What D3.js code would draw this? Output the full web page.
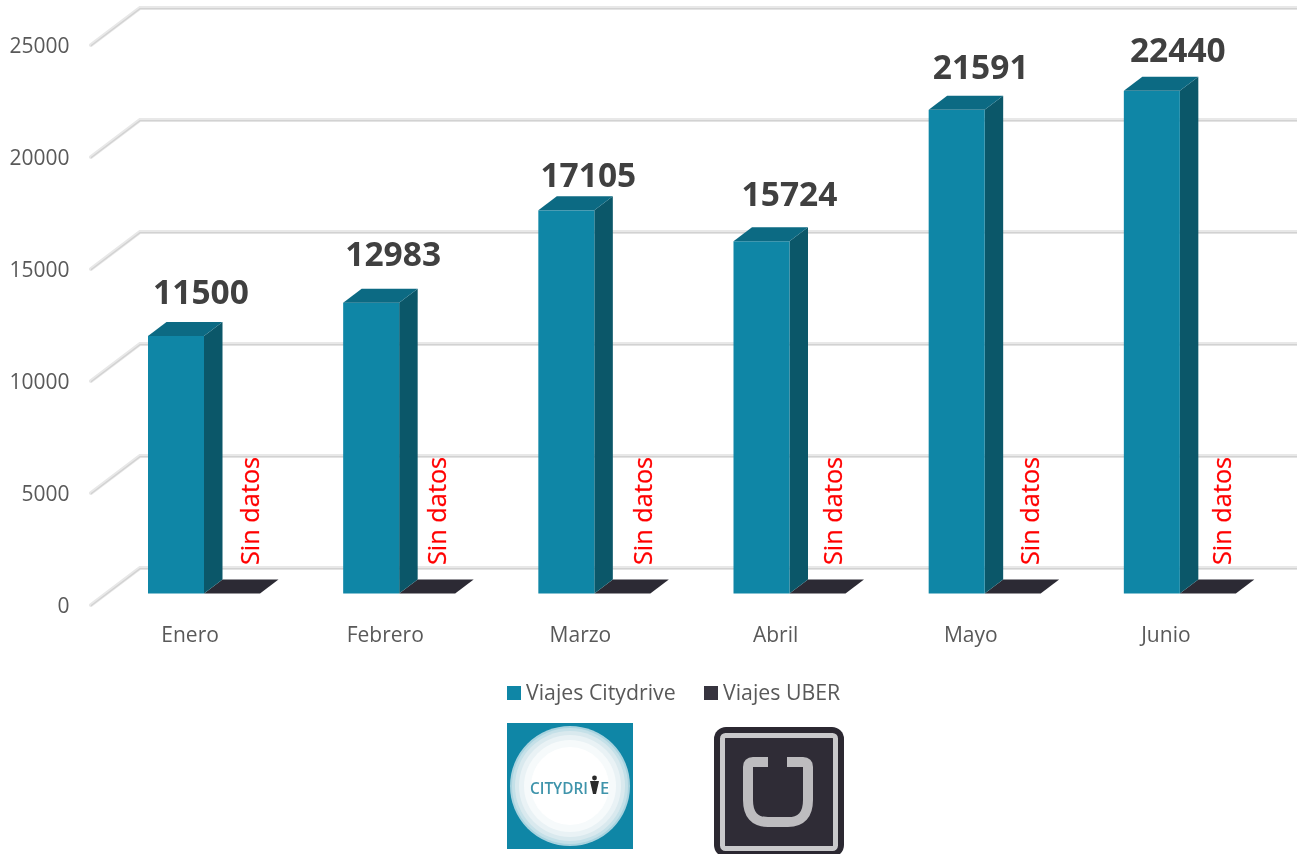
<!DOCTYPE html>
<html>
<head>
<meta charset="utf-8">
<script src="https://cdn.jsdelivr.net/npm/d3@7"></script>
<style>
  html, body { margin: 0; padding: 0; background: #fff; }
  svg { display: block; filter: blur(0.4px); }
  text { font-family: "Open Sans", sans-serif; }
</style>
</head>
<body>
<svg id="chart" width="1297" height="854"></svg>
<script>
const months = ["Enero", "Febrero", "Marzo", "Abril", "Mayo", "Junio"];
const citydrive = [11500, 12983, 17105, 15724, 21591, 22440];
const uber = [0, 0, 0, 0, 0, 0];
const yTicks = [0, 5000, 10000, 15000, 20000, 25000];
const legendNames = ["Viajes Citydrive", "Viajes UBER"];
const noDataLabel = "Sin datos";

// aes
const cityFront = "#0f86a6", cityTop = "#0c6a83", citySide = "#0b5769";
const uberFront = "#37343f", uberTop = "#2c2a34";
const depthX = 18.5, depthY = 14;
const gridFrontX = 91, gridBackX = 140;
const barWidth = 56;

const svg = d3.select("#chart");

let x = d3.scaleBand().domain(months).range([100, 1271]).paddingInner(0).paddingOuter(0);
let y = d3.scaleLinear().domain([0, 25000]).range([593.5, 33.5]);

// the labels were placed by hand in the original, so they are not evenly spaced
const noDataNudge = [0, -8, 3, -3, -1, -4];
const valueNudgeX = [0, -3, -3, 3, -1, 1];
const valueNudgeY = [0, -5, 9, -3, 1, 3];

// grid, drawn as a thick light line with a thin darker core
let grid = svg.append("g");
yTicks.forEach(t => {
  let pts = [[gridFrontX, y(t) + 11.5], [gridBackX, y(t) - 25.5], [1297, y(t) - 25.5]];
  grid.append("path").attr("d", d3.line()(pts))
    .attr("fill", "none").attr("stroke", "#e8e8e8").attr("stroke-width", 4)
    .attr("stroke-linecap", "round");
  grid.append("path").attr("d", d3.line()(pts.map(p => [p[0], p[1] + 0.7])))
    .attr("fill", "none").attr("stroke", "#d2d2d2").attr("stroke-width", 1.3);
});

// y labels
svg.append("g").selectAll("text").data(yTicks).enter().append("text")
  .attr("x", 69.5)
  .attr("y", d => y(d) + 19)
  .attr("text-anchor", "end")
  .attr("font-size", 21)
  .attr("fill", "#595959")
  .text(d => d);

// Add a box in fake 3d
function box(g, x0, w, top, base, front, topCol, side) {
  let poly = pts => g.append("polygon").attr("points", pts.map(p => p.join(",")).join(" "));
  if (top < base) {
    poly([[x0 + w, top], [x0 + w + depthX, top - depthY], [x0 + w + depthX, base - depthY], [x0 + w, base]]).attr("fill", side);
    g.append("rect").attr("x", x0).attr("y", top).attr("width", w).attr("height", base - top).attr("fill", front);
  }
  poly([[x0, top], [x0 + depthX, top - depthY], [x0 + w + depthX, top - depthY], [x0 + w, top]]).attr("fill", topCol);
}

let bars = svg.append("g");
months.forEach((m, i) => {
  let x0 = x(m) + 48;
  box(bars, x0 + barWidth, barWidth, y(uber[i]), y(0), uberFront, uberTop, uberTop);
  box(bars, x0, barWidth, y(citydrive[i]), y(0), cityFront, cityTop, citySide);

  bars.append("text")
    .attr("x", x0 + 53 + valueNudgeX[i])
    .attr("y", y(citydrive[i]) - 32 + valueNudgeY[i])
    .attr("text-anchor", "middle")
    .attr("font-size", 33.5)
    .attr("font-weight", 700)
    .attr("fill", "#404040")
    .text(citydrive[i]);

  bars.append("text")
    .attr("transform", `translate(${x0 + 111 + noDataNudge[i]},565) rotate(-90)`)
    .attr("font-size", 25.3)
    .attr("fill", "#ff0000")
    .attr("stroke", "#ff0000")
    .attr("stroke-width", 0.25)
    .text(noDataLabel);

  svg.append("text")
    .attr("x", x(m) + x.bandwidth() / 2 - 7.5)
    .attr("y", 642)
    .attr("text-anchor", "middle")
    .attr("font-size", 21)
    .attr("fill", "#595959")
    .text(m);
});

// legend
let legend = svg.append("g");
[[507, cityFront], [704, uberFront]].forEach((d, i) => {
  legend.append("rect").attr("x", d[0]).attr("y", 686).attr("width", 14).attr("height", 14).attr("fill", d[1]);
  legend.append("text").attr("x", d[0] + 19).attr("y", 700)
    .attr("font-size", 21.3).attr("fill", "#595959").text(legendNames[i]);
});

// Citydrive logo
let cityLogo = svg.append("g");
cityLogo.append("rect").attr("x", 507).attr("y", 723).attr("width", 126).attr("height", 126).attr("fill", cityFront);
[[60, "#a9d3df"], [58, "#c4e0e8"], [55, "#d9e9ee"], [51, "#e9f2f5"], [46, "#f6fafb"], [39, "#ffffff"]].forEach(d => {
  cityLogo.append("circle").attr("cx", 570).attr("cy", 786).attr("r", d[0]).attr("fill", d[1]);
});
cityLogo.append("text").attr("x", 530).attr("y", 794).attr("font-size", 16.5)
  .attr("font-weight", 600).attr("fill", "#3f94ab")
  .attr("textLength", 58).attr("lengthAdjust", "spacingAndGlyphs").text("CITYDRI");
cityLogo.append("text").attr("x", 600).attr("y", 794).attr("font-size", 16.5)
  .attr("font-weight", 600).attr("fill", "#3f94ab").text("E");
cityLogo.append("path").attr("d", "M590 781 L599 781 L596 794 L593 794 Z").attr("fill", "#2a2a2a");
cityLogo.append("circle").attr("cx", 594.5).attr("cy", 778).attr("r", 2.4).attr("fill", "#2a2a2a");

// Uber logo
let uberLogo = svg.append("g");
uberLogo.append("rect").attr("x", 714).attr("y", 727).attr("width", 130).attr("height", 130).attr("rx", 12).attr("fill", "#2b2831");
uberLogo.append("rect").attr("x", 722.5).attr("y", 735.5).attr("width", 113).attr("height", 113).attr("rx", 3)
  .attr("fill", "#2f2c36").attr("stroke", "#c9c9cb").attr("stroke-width", 5);
uberLogo.append("path")
  .attr("d", "M768 762 L753 762 Q748 762 748 767 L748 800 Q748 822 768 822 L788 822 Q808 822 808 800 L808 767 Q808 762 803 762 L787 762")
  .attr("fill", "none").attr("stroke", "#bdbcbf").attr("stroke-width", 10).attr("stroke-linejoin", "round");
</script>
</body>
</html>
